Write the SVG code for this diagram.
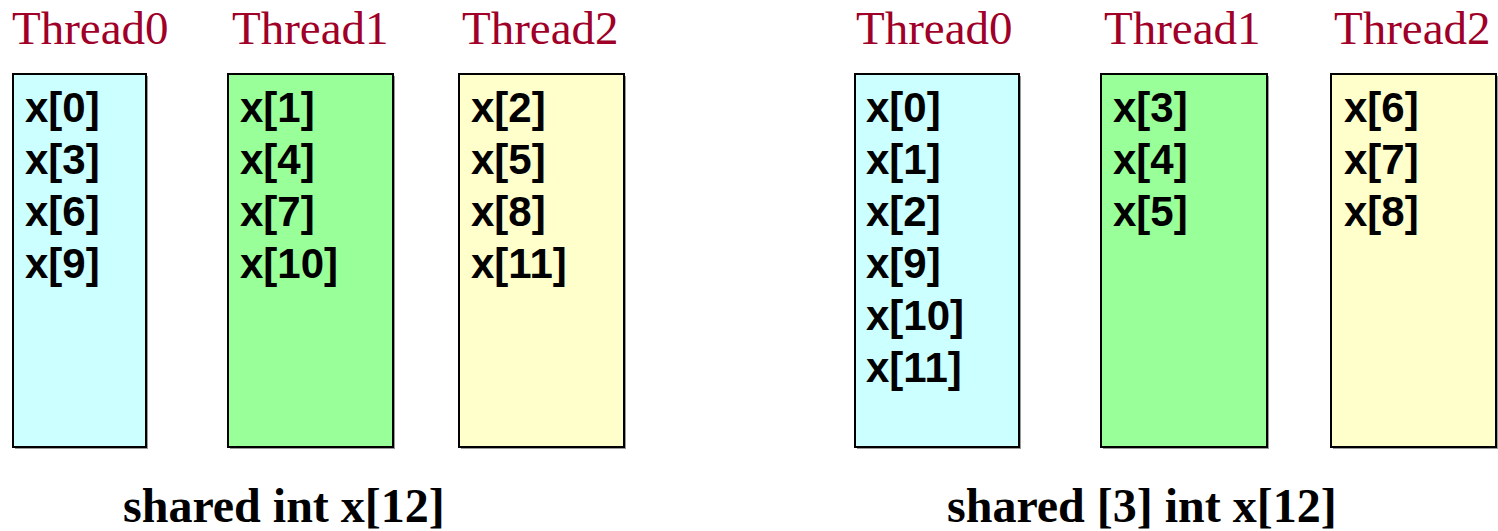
<svg xmlns="http://www.w3.org/2000/svg" width="1498" height="531" viewBox="0 0 1498 531">
  <style>
    .thr { font-family: "Liberation Serif", "Times New Roman", serif; font-size: 47px; fill: #A00028; }
    .box { stroke: #000; stroke-width: 2; }
    .shadow { fill: #9a9a9a; }
    .c0 { fill: #CCFFFF; }
    .c1 { fill: #99FF99; }
    .c2 { fill: #FFFFCC; }
    .el { font-family: "Liberation Sans", Arial, sans-serif; font-weight: bold; font-size: 42px; fill: #000; }
    .cap { font-family: "Liberation Serif", "Times New Roman", serif; font-weight: bold; font-size: 48px; fill: #000; }
  </style>

  <!-- Cyclic layout: shared int x[12] -->
  <g id="cyclic-thread0">
    <text class="thr" x="12" y="44">Thread0</text>
    <rect class="shadow" x="15" y="76" width="133" height="373"/>
    <rect class="box c0" x="13" y="74" width="133" height="373"/>
    <text class="el" x="25" y="122">x[0]</text>
    <text class="el" x="25" y="174">x[3]</text>
    <text class="el" x="25" y="226">x[6]</text>
    <text class="el" x="25" y="278">x[9]</text>
  </g>
  <g id="cyclic-thread1">
    <text class="thr" x="232" y="44">Thread1</text>
    <rect class="shadow" x="230" y="76" width="165" height="373"/>
    <rect class="box c1" x="228" y="74" width="165" height="373"/>
    <text class="el" x="240" y="122">x[1]</text>
    <text class="el" x="240" y="174">x[4]</text>
    <text class="el" x="240" y="226">x[7]</text>
    <text class="el" x="240" y="278">x[10]</text>
  </g>
  <g id="cyclic-thread2">
    <text class="thr" x="462" y="44">Thread2</text>
    <rect class="shadow" x="461" y="76" width="165" height="373"/>
    <rect class="box c2" x="459" y="74" width="165" height="373"/>
    <text class="el" x="471" y="122">x[2]</text>
    <text class="el" x="471" y="174">x[5]</text>
    <text class="el" x="471" y="226">x[8]</text>
    <text class="el" x="471" y="278">x[11]</text>
  </g>
  <text class="cap" x="123" y="522">shared int x[12]</text>

  <!-- Blocked layout: shared [3] int x[12] -->
  <g id="blocked-thread0">
    <text class="thr" x="856" y="44">Thread0</text>
    <rect class="shadow" x="857" y="76" width="164" height="373"/>
    <rect class="box c0" x="855" y="74" width="164" height="373"/>
    <text class="el" x="866" y="122">x[0]</text>
    <text class="el" x="866" y="174">x[1]</text>
    <text class="el" x="866" y="226">x[2]</text>
    <text class="el" x="866" y="278">x[9]</text>
    <text class="el" x="866" y="330">x[10]</text>
    <text class="el" x="866" y="382">x[11]</text>
  </g>
  <g id="blocked-thread1">
    <text class="thr" x="1104" y="44">Thread1</text>
    <rect class="shadow" x="1103" y="76" width="166" height="373"/>
    <rect class="box c1" x="1101" y="74" width="166" height="373"/>
    <text class="el" x="1113" y="122">x[3]</text>
    <text class="el" x="1113" y="174">x[4]</text>
    <text class="el" x="1113" y="226">x[5]</text>
  </g>
  <g id="blocked-thread2">
    <text class="thr" x="1334" y="44">Thread2</text>
    <rect class="shadow" x="1333" y="76" width="165" height="373"/>
    <rect class="box c2" x="1331" y="74" width="165" height="373"/>
    <text class="el" x="1344" y="122">x[6]</text>
    <text class="el" x="1344" y="174">x[7]</text>
    <text class="el" x="1344" y="226">x[8]</text>
  </g>
  <text class="cap" x="947" y="522">shared [3] int x[12]</text>

  <g id="connectors"/>
</svg>
